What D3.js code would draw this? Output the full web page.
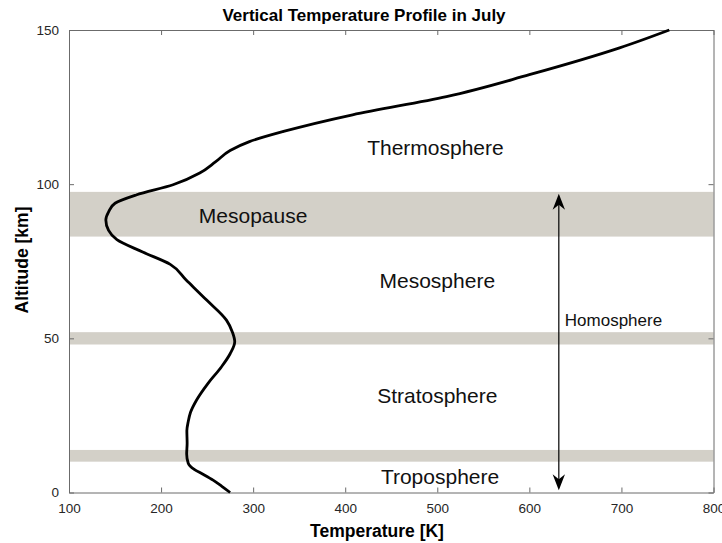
<!DOCTYPE html>
<html>
<head>
<meta charset="utf-8">
<script src="https://cdn.jsdelivr.net/npm/d3@7"></script>
<style>
  body { margin: 0; background: #fff; }
  text { font-family: "Liberation Sans", Arial, Helvetica, sans-serif; }
</style>
</head>
<body>
<div id="chart"></div>
<script>
// temperature profile (altitude km -> temperature K)
const altitude = [0, 2, 4, 6, 7.5, 9.5, 12.5, 16, 20, 23, 26, 30, 35.4, 40.8, 45, 48.9, 52, 55.9, 62.4, 69, 74, 78, 82, 85, 88.4, 91, 93.8, 96.5, 99.8, 103.6, 107.2, 110.9, 113.8, 117.1, 122.5, 128.4, 135.5, 144.2, 150];
const temperature = [275, 266, 256.5, 245, 236, 229.5, 227.8, 228.3, 228, 229.5, 232, 238.6, 251, 265.7, 275, 280, 277.5, 271, 249.5, 227, 210, 180, 152, 143, 140, 143, 150, 173, 213, 242, 259, 275, 296, 333, 408, 510, 600, 698, 752];

// shaded layers (pauses)
const bandLow = [83, 48, 10];
const bandHigh = [97.5, 52, 13.8];

// layer labels
const layerNames = ['Thermosphere', 'Mesopause', 'Mesosphere', 'Stratosphere', 'Troposphere'];
const layerT = [498, 300, 500, 500, 503];
const layerAlt = [111.9, 89.7, 68.6, 31.3, 5.3];

const xTicks = [100, 200, 300, 400, 500, 600, 700, 800];
const yTicks = [0, 50, 100, 150];

const arrowT = 632;
const arrowFrom = 0.7;
const arrowTo = 96.9;

const width = 722;
const height = 543;
const margin = {top: 30, right: 8.5, bottom: 50.5, left: 69};

const svg = d3.select('#chart').append('svg')
    .attr('width', width).attr('height', height);

const x = d3.scaleLinear().domain([100, 800]).range([margin.left, width - margin.right]);
const y = d3.scaleLinear().domain([0, 150]).range([height - margin.bottom, margin.top]);

// bands
svg.append('g').selectAll('rect')
    .data(bandLow)
    .enter()
    .append('rect')
    .attr('x', x(100))
    .attr('width', x(800) - x(100))
    .attr('y', (d, i) => y(bandHigh[i]))
    .attr('height', (d, i) => y(d) - y(bandHigh[i]))
    .attr('fill', '#d3d0c8');

// axes (ticks inward, mirrored on all sides)
const axisColor = '#6b6b6b';
function styleAxis(g) {
    g.select('.domain').attr('stroke', axisColor);
    g.selectAll('.tick line').attr('stroke', axisColor);
    g.selectAll('.tick text').attr('fill', '#262626').attr('font-size', 13.5)
        .attr('font-family', '"Liberation Sans", Arial, sans-serif');
}
svg.append('g')
    .attr('transform', `translate(0,${y(0)})`)
    .call(d3.axisBottom(x).tickValues(xTicks).tickSizeInner(-5).tickSizeOuter(0).tickPadding(11))
    .call(styleAxis);
svg.append('g')
    .attr('transform', `translate(0,${y(150)})`)
    .call(d3.axisTop(x).tickValues(xTicks).tickSizeInner(-5).tickSizeOuter(0).tickFormat(''))
    .call(styleAxis);
svg.append('g')
    .attr('transform', `translate(${x(100)},0)`)
    .call(d3.axisLeft(y).tickValues(yTicks).tickSizeInner(-5).tickSizeOuter(0).tickPadding(10))
    .call(styleAxis);
svg.append('g')
    .attr('transform', `translate(${x(800)},0)`)
    .call(d3.axisRight(y).tickValues(yTicks).tickSizeInner(-5).tickSizeOuter(0).tickFormat(''))
    .call(styleAxis);

// profile curve, drawn top-down so the screen y is increasing
const order = d3.range(altitude.length).reverse();
const line = d3.line()
    .x(i => x(temperature[i]))
    .y(i => y(altitude[i]))
    .curve(d3.curveMonotoneY);
svg.append('path')
    .datum(order)
    .attr('d', line)
    .attr('fill', 'none')
    .attr('stroke', '#000')
    .attr('stroke-width', 2.8)
    .attr('stroke-linejoin', 'round');

// layer labels
svg.append('g').selectAll('text')
    .data(layerNames)
    .enter()
    .append('text')
    .attr('x', (d, i) => x(layerT[i]))
    .attr('y', (d, i) => y(layerAlt[i]))
    .attr('dy', '0.35em')
    .attr('text-anchor', 'middle')
    .attr('font-size', 21)
    .attr('fill', '#111')
    .text(d => d);

// homosphere double arrow
const ax = x(arrowT);
const yTop = y(arrowTo);
const yBot = y(arrowFrom);
svg.append('line')
    .attr('x1', ax).attr('x2', ax)
    .attr('y1', yTop + 6).attr('y2', yBot - 6)
    .attr('stroke', '#000').attr('stroke-width', 1.2);
function head(tipY, dir) {
    // dir = 1 pointing up, -1 pointing down
    const l = 16 * dir, w = 6.2, n = 11 * dir;
    return `M${ax},${tipY} L${ax - w},${tipY + l} L${ax},${tipY + n} L${ax + w},${tipY + l} Z`;
}
svg.append('path').attr('d', head(yTop, 1)).attr('fill', '#000');
svg.append('path').attr('d', head(yBot, -1)).attr('fill', '#000');
svg.append('text')
    .attr('x', ax + 6)
    .attr('y', y(54))
    .attr('font-size', 17)
    .attr('fill', '#111')
    .text('Homosphere');

// titles
svg.append('text')
    .attr('x', 364)
    .attr('y', 21)
    .attr('text-anchor', 'middle')
    .attr('font-size', 17)
    .attr('font-weight', 'bold')
    .text('Vertical Temperature Profile in July');
svg.append('text')
    .attr('x', 377)
    .attr('y', 537)
    .attr('text-anchor', 'middle')
    .attr('font-size', 17.5)
    .attr('font-weight', 'bold')
    .text('Temperature [K]');
svg.append('text')
    .attr('transform', `translate(28,260) rotate(-90)`)
    .attr('text-anchor', 'middle')
    .attr('font-size', 17.5)
    .attr('font-weight', 'bold')
    .text('Altitude [km]');
</script>
</body>
</html>
